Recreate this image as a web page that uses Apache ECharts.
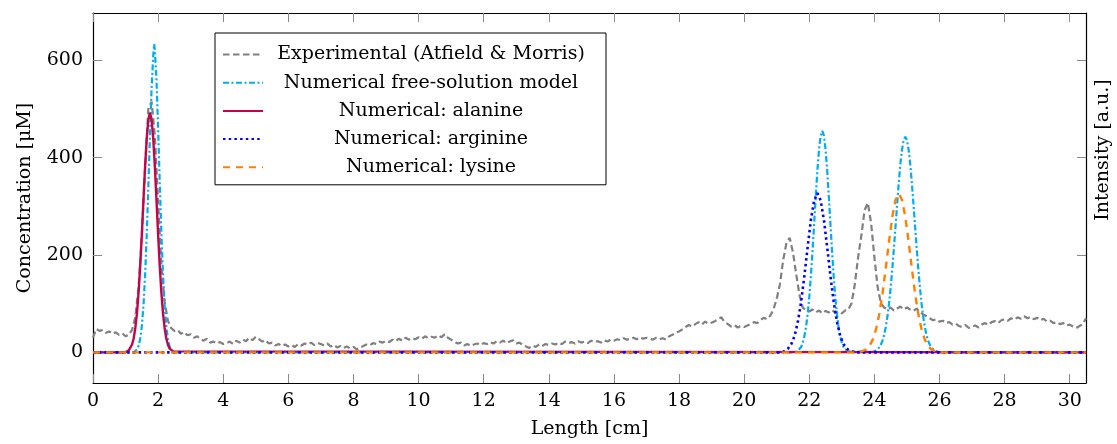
<!DOCTYPE html>
<html><head><meta charset="utf-8">
<script src="https://cdn.jsdelivr.net/npm/echarts@6/dist/echarts.min.js"></script>
<style>html,body{margin:0;padding:0;background:#fff}#c{width:1117px;height:444px}</style>
</head><body><div id="c"></div>
<script>
// ---- data ----
const xTicks = [0, 2, 4, 6, 8, 10, 12, 14, 16, 18, 20, 22, 24, 26, 28, 30];
const yTicks = [0, 200, 400, 600];
const seriesNames = [
  'Experimental (Atfield & Morris)',
  'Numerical free-solution model',
  'Numerical: alanine',
  'Numerical: arginine',
  'Numerical: lysine'
];
// Experimental profile, sampled every 0.1 cm starting at 0 cm
const expStart = 0;
const expStep = 0.1;
const expValues = [
  30, 48, 44, 46, 40, 43, 38, 41, 36, 39,
  33, 36, 46, 72, 135, 240, 380, 500, 515, 445,
  310, 180, 105, 65, 50, 44, 46, 38, 42, 35,
  37, 30, 33, 27, 24, 28, 20, 22, 18, 21,
  17, 19, 22, 17, 24, 20, 26, 23, 30, 25,
  32, 27, 22, 25, 18, 20, 14, 17, 13, 16,
  12, 15, 11, 17, 14, 18, 16, 20, 15, 19,
  17, 14, 18, 12, 15, 10, 13, 9, 12, 8,
  11, 6, 10, 13, 16, 14, 19, 17, 22, 20,
  24, 21, 26, 23, 28, 24, 30, 26, 29, 27,
  31, 28, 33, 29, 32, 30, 35, 31, 37, 30,
  26, 22, 18, 20, 14, 17, 13, 16, 18, 15,
  19, 17, 21, 18, 23, 20, 24, 19, 22, 25,
  18, 20, 15, 12, 9, 14, 11, 16, 13, 17,
  15, 18, 16, 20, 17, 22, 19, 21, 18, 23,
  20, 22, 19, 24, 21, 23, 20, 25, 22, 26,
  24, 27, 25, 29, 26, 28, 30, 27, 31, 28,
  30, 28, 26, 30, 27, 29, 26, 33, 36, 40,
  43, 47, 52, 56, 53, 58, 62, 57, 63, 59,
  61, 64, 68, 72, 62, 58, 53, 56, 51, 54,
  52, 55, 58, 62, 60, 66, 71, 68, 75, 88,
  110, 140, 190, 225, 235, 205, 160, 118, 92, 86,
  84, 88, 82, 86, 80, 85, 82, 87, 81, 84,
  80, 86, 88, 101, 140, 195, 240, 292, 307, 265,
  196, 134, 101, 92, 88, 92, 86, 90, 94, 88,
  92, 88, 85, 90, 82, 78, 74, 70, 66, 68,
  63, 65, 60, 62, 57, 59, 54, 52, 56, 50,
  53, 55, 51, 57, 60, 56, 62, 64, 60, 66,
  68, 65, 70, 67, 72, 69, 74, 70, 73, 68,
  71, 66, 69, 63, 65, 60, 62, 58, 60, 55,
  57, 53, 50, 54, 58, 70
];
const freeSolution = [
  [0, 0], [1.25, 0], [1.3, 2], [1.35, 6], [1.4, 13], [1.45, 28], [1.5, 54], [1.55, 96],
  [1.6, 158], [1.65, 241], [1.7, 341], [1.75, 447], [1.8, 543], [1.85, 609], [1.88, 633],
  [1.9, 620], [1.95, 560], [2.0, 460], [2.05, 350], [2.1, 245], [2.15, 160], [2.2, 96],
  [2.25, 54], [2.3, 28], [2.35, 13], [2.4, 6], [2.45, 2], [2.5, 0],
  [21.55, 0], [21.6, 2], [21.65, 3], [21.7, 6], [21.75, 11], [21.8, 20], [21.85, 33],
  [21.9, 52], [21.95, 78], [22.0, 113], [22.05, 157], [22.1, 208], [22.15, 264], [22.2, 321],
  [22.25, 374], [22.3, 417], [22.35, 445], [22.4, 455], [22.45, 445], [22.5, 417],
  [22.55, 374], [22.6, 321], [22.65, 264], [22.7, 208], [22.75, 157], [22.8, 113],
  [22.85, 78], [22.9, 52], [22.95, 33], [23.0, 20], [23.05, 11], [23.1, 6], [23.15, 3],
  [23.2, 2], [23.25, 0],
  [23.95, 1], [24.05, 4], [24.1, 6], [24.15, 10], [24.2, 16], [24.25, 24], [24.3, 36],
  [24.35, 52], [24.4, 73], [24.45, 100], [24.5, 133], [24.55, 171], [24.6, 214], [24.65, 259],
  [24.7, 305], [24.75, 349], [24.8, 388], [24.85, 417], [24.9, 436], [24.95, 443], [25.0, 436],
  [25.05, 417], [25.1, 388], [25.15, 349], [25.2, 305], [25.25, 259], [25.3, 214], [25.35, 171],
  [25.4, 133], [25.45, 100], [25.5, 73], [25.55, 52], [25.6, 36], [25.65, 24], [25.7, 16],
  [25.75, 10], [25.8, 6], [25.85, 4], [25.95, 1], [26.05, 0], [30.5, 0]
];
const alanine = [
  [0, 0], [1.0, 0], [1.05, 2], [1.1, 4], [1.15, 8], [1.2, 16], [1.25, 29], [1.3, 50],
  [1.35, 80], [1.4, 123], [1.45, 177], [1.5, 242], [1.55, 313], [1.6, 381], [1.65, 439],
  [1.7, 478], [1.75, 492], [1.8, 478], [1.85, 439], [1.9, 381], [1.95, 313], [2.0, 242],
  [2.05, 177], [2.1, 123], [2.15, 80], [2.2, 50], [2.25, 29], [2.3, 16], [2.35, 8],
  [2.4, 4], [2.45, 2], [2.5, 0], [30.5, 0]
];
const arginine = [
  [0, 0], [21.15, 0], [21.25, 3], [21.35, 8], [21.45, 17], [21.55, 34], [21.65, 63],
  [21.75, 104], [21.85, 157], [21.95, 216], [22.05, 272], [22.15, 312], [22.25, 327],
  [22.35, 312], [22.45, 272], [22.55, 216], [22.65, 157], [22.75, 104], [22.85, 63],
  [22.95, 34], [23.05, 17], [23.15, 8], [23.25, 3], [23.35, 1], [23.45, 0], [30.5, 0]
];
const lysine = [
  [0, 0], [23.45, 0], [23.55, 1], [23.65, 3], [23.75, 6], [23.85, 13], [23.95, 26],
  [24.05, 47], [24.15, 78], [24.25, 121], [24.35, 173], [24.45, 228], [24.55, 278],
  [24.65, 313], [24.75, 326], [24.85, 313], [24.95, 278], [25.05, 228], [25.15, 173],
  [25.25, 121], [25.35, 78], [25.45, 47], [25.55, 26], [25.65, 13], [25.75, 6],
  [25.85, 3], [25.95, 1], [26.05, 0], [30.5, 0]
];

// ---- chart ----
const experimental = expValues.map((v, i) => [+(expStart + i * expStep).toFixed(2), v]);
const FONT = 'DejaVu Serif';
const tickStyle = { show: true, inside: true, length: 9, lineStyle: { color: '#8a8a8a', width: 1 } };
const frameLine = { show: true, onZero: false, lineStyle: { color: '#000', width: 1.2 } };

const chart = echarts.init(document.getElementById('c'), null, { renderer: 'canvas' });
chart.setOption({
  animation: false,
  backgroundColor: '#fff',
  grid: { left: 93, right: 31, top: 13, bottom: 61, containLabel: false, outerBoundsMode: 'none' },
  legend: {
    orient: 'vertical',
    left: 215, top: 33,
    padding: [12, 12, 8, 7],
    itemGap: 9.2,
    itemWidth: 40, itemHeight: 14,
    backgroundColor: '#fff',
    borderColor: '#000', borderWidth: 1,
    borderRadius: 0,
    itemStyle: { opacity: 0 },
    data: seriesNames,
    formatter: n => '{t|' + n + '}',
    textStyle: {
      fontFamily: FONT, fontSize: 19, color: '#000',
      rich: { t: { fontFamily: FONT, fontSize: 19, width: 326, align: 'center', lineHeight: 24 } }
    }
  },
  xAxis: [{
    type: 'value', min: 0, max: 30.5, position: 'bottom',
    name: 'Length [cm]', nameLocation: 'middle', nameGap: 37,
    nameTextStyle: { fontFamily: FONT, fontSize: 19, color: '#000' },
    axisLine: frameLine,
    axisTick: Object.assign({ customValues: xTicks }, tickStyle),
    axisLabel: { customValues: xTicks, margin: 9, fontFamily: FONT, fontSize: 19, color: '#000' },
    splitLine: { show: false }
  }, {
    type: 'value', min: 0, max: 30.5, position: 'top',
    axisLine: frameLine,
    axisTick: Object.assign({ customValues: xTicks }, tickStyle),
    axisLabel: { show: false },
    splitLine: { show: false }
  }],
  yAxis: [{
    type: 'value', min: -63, max: 697, position: 'left',
    name: 'Concentration [μM]', nameLocation: 'middle', nameGap: 58, nameRotate: 90,
    nameTextStyle: { fontFamily: FONT, fontSize: 19, color: '#000' },
    axisLine: frameLine,
    axisTick: Object.assign({ customValues: yTicks }, tickStyle),
    axisLabel: { customValues: yTicks, margin: 10, fontFamily: FONT, fontSize: 19, color: '#000' },
    splitLine: { show: false }
  }, {
    type: 'value', min: -63, max: 697, position: 'right',
    name: 'Intensity [a.u.]', nameLocation: 'middle', nameGap: 8, nameRotate: 90,
    nameTextStyle: { fontFamily: FONT, fontSize: 19, color: '#000', padding: [0, 0, 0, 96] },
    axisLine: frameLine,
    axisTick: Object.assign({ customValues: yTicks }, tickStyle),
    axisLabel: { show: false },
    splitLine: { show: false }
  }],
  series: [
    { name: seriesNames[0], type: 'line', data: experimental, symbol: 'none',
      lineStyle: { color: '#808080', width: 2.2, type: [6.5, 3.5] }, itemStyle: { color: '#808080' } },
    { name: seriesNames[1], type: 'line', data: freeSolution, symbol: 'none',
      lineStyle: { color: '#00adef', width: 2.2, type: [6, 2.5, 2, 2.5] }, itemStyle: { color: '#00adef' } },
    { name: seriesNames[2], type: 'line', data: alanine, symbol: 'none',
      lineStyle: { color: '#c2054b', width: 2.4, type: 'solid' }, itemStyle: { color: '#c2054b' } },
    { name: seriesNames[3], type: 'line', data: arginine, symbol: 'none',
      lineStyle: { color: '#0000ff', width: 2.6, type: [2.5, 3.2] }, itemStyle: { color: '#0000ff' } },
    { name: seriesNames[4], type: 'line', data: lysine, symbol: 'none',
      lineStyle: { color: '#ff8000', width: 2.4, type: [7, 6] }, itemStyle: { color: '#ff8000' } }
  ]
});
</script>
</body></html>
